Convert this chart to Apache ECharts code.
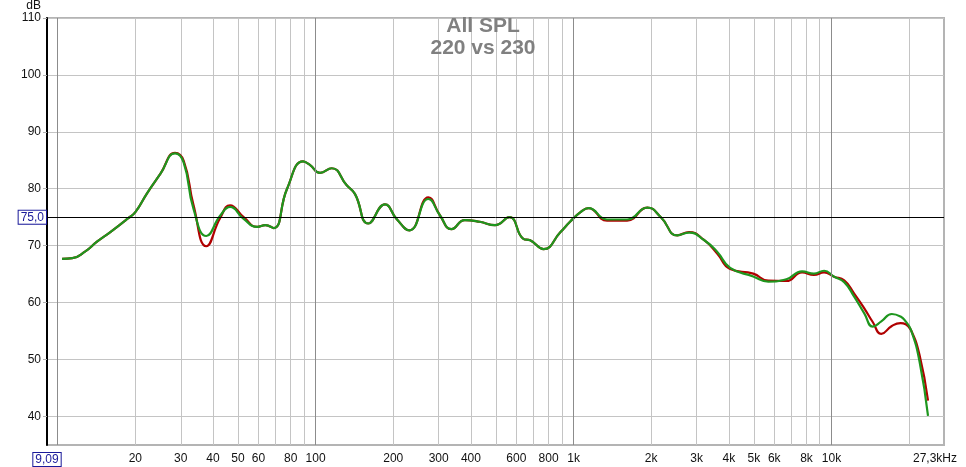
<!DOCTYPE html>
<html>
<head>
<meta charset="utf-8">
<script src="https://cdn.jsdelivr.net/npm/echarts@6/dist/echarts.min.js"></script>
<style>
html,body{margin:0;padding:0;background:#fff;}
#chart{width:966px;height:467px;}
</style>
</head>
<body>
<div id="chart"></div>
<script>
// Frequencies (Hz)
const freq = [10.4, 11.4, 12.8, 14.2, 16.0, 18.6, 20.0, 22.2, 25.0, 28.5, 30.8, 33.6, 37.7, 42.7, 46.6, 52.6, 59.4, 63.9, 68.8, 77.5,
  89.4, 95, 104, 115.5, 132, 142, 160, 185.7, 206, 231, 273.6, 303.6, 336, 379, 433, 496, 564, 639, 679, 765,
  890, 969, 1064, 1143, 1348, 1613, 1932, 2181, 2525, 2805, 3204, 3609, 4047, 4972, 5690, 6681, 7690, 8545, 9363, 10237,
  11200, 12245, 13400, 14450, 15600, 17135, 18525, 19390, 20325, 21935, 23670];
// SPL "220" (red)
const spl220 = [67.7, 67.8, 69.0, 70.7, 72.4, 74.7, 75.9, 79.2, 82.6, 86.3, 84.9, 77.2, 69.9, 74.9, 77.1, 75.0, 73.3, 73.6, 73.1, 80.0,
  84.8, 84.2, 82.8, 83.6, 80.6, 79.1, 73.9, 77.25, 74.7, 72.7, 78.5, 75.3, 72.9, 74.5, 74.2, 73.6, 75.0, 71.2, 70.96, 69.4,
  72.4, 74.2, 75.9, 76.6, 74.4, 74.4, 76.7, 75.0, 71.8, 72.4, 71.0, 68.6, 65.9, 65.1, 63.85, 63.8, 65.3, 64.85, 65.3, 64.55,
  63.9, 61.6, 59.0, 56.6, 54.5, 55.9, 56.4, 56.2, 55.2, 50.85, 42.8];
// SPL "230" (green)
const spl230 = [67.7, 67.8, 69.0, 70.7, 72.4, 74.7, 75.9, 79.2, 82.6, 86.2, 84.6, 76.5, 71.7, 75.3, 76.8, 74.7, 73.3, 73.6, 73.1, 80.0,
  84.8, 84.2, 82.8, 83.6, 80.6, 79.1, 73.9, 77.25, 74.7, 72.7, 78.2, 75.3, 72.9, 74.5, 74.2, 73.6, 75.0, 71.2, 70.96, 69.4,
  72.4, 74.2, 75.9, 76.6, 74.6, 74.6, 76.7, 75.0, 71.8, 72.3, 71.0, 68.9, 66.1, 64.6, 63.7, 64.1, 65.5, 65.1, 65.6, 64.55,
  63.6, 61.05, 58.1, 55.8, 56.7, 58.0, 57.55, 56.7, 55.2, 49.7, 40.1];

// Axis definitions
const xMinHz = 9.09, xMaxHz = 27300;
const gridFreqs = [10,20,30,40,50,60,70,80,90,100,200,300,400,500,600,700,800,900,1000,2000,3000,4000,5000,6000,7000,8000,9000,10000,20000];
const decadeFreqs = [10,100,1000,10000];
const labelFreqs = [9.09,20,30,40,50,60,80,100,200,300,400,600,800,1000,2000,3000,4000,5000,6000,8000,10000,27300];
const labelTexts = ['9,09','20','30','40','50','60','80','100','200','300','400','600','800','1k','2k','3k','4k','5k','6k','8k','10k','27,3kHz'];
const yTicks = [40,50,60,70,80,90,100,110];
const refLevel = 75;

const L = Math.log10;
const FONT = '"Liberation Sans", Arial, sans-serif';

const chart = echarts.init(document.getElementById('chart'), null, {renderer:'canvas'});
chart.setOption({
  animation:false,
  backgroundColor:'#ffffff',
  title:{
    text:'All SPL\n220 vs 230',
    left:'center', top:15, padding:0,
    textStyle:{color:'#808080', fontSize:21, fontWeight:'bold', fontFamily:FONT, lineHeight:22}
  },
  grid:{left:47, right:22, top:15, bottom:22, show:true, borderColor:'#b4b4b4', borderWidth:2, backgroundColor:'transparent'},
  xAxis:{
    type:'value', min:L(xMinHz), max:L(xMaxHz),
    axisLine:{show:false},
    axisTick:{show:false, customValues:gridFreqs.map(L)},
    splitLine:{show:true, lineStyle:{color:'#c4c4c4', width:1}},
    axisLabel:{
      customValues:labelFreqs.map(L),
      color:'#111', fontSize:12, fontFamily:FONT, margin:8,
      formatter:function(v){
        let best=0, bd=1e9;
        labelFreqs.forEach((f,i)=>{const d=Math.abs(L(f)-v); if(d<bd){bd=d;best=i;}});
        const t = labelTexts[best];
        if(best===0) return '{b|'+t+'}';
        if(best===labelTexts.length-1) return '{e|'+t+'}';
        return t;
      },
      rich:{
        b:{color:'#1a1a9a', borderColor:'#1a1a9a', borderWidth:1, padding:[1,2,0,2], fontSize:12, fontFamily:FONT, backgroundColor:'#fff'},
        e:{color:'#111', fontSize:12, fontFamily:FONT, padding:[0,0,0,-18]}
      }
    }
  },
  yAxis:{
    type:'value', min:35, max:110,
    name:'dB', nameLocation:'end', nameGap:3,
    nameTextStyle:{color:'#111', fontSize:12, fontFamily:FONT, align:'right', verticalAlign:'bottom', padding:[0,6,0,0]},
    axisLine:{show:true, onZero:false, lineStyle:{color:'#000', width:2}},
    axisTick:{show:true, length:4, customValues:yTicks, lineStyle:{color:'#b0b0b0'}},
    splitLine:{show:true, lineStyle:{color:'#c4c4c4', width:1}},
    axisLabel:{customValues:yTicks, color:'#111', fontSize:12, fontFamily:FONT, margin:6}
  },
  series:[
    {
      type:'line', data:[], z:1, silent:true,
      markLine:{
        silent:true, symbol:'none', animation:false,
        data:[
          ...decadeFreqs.map(f=>({xAxis:L(f), lineStyle:{color:'#8c8c8c', width:1, type:'solid'}, label:{show:false}})),
          {yAxis:refLevel, lineStyle:{color:'#000', width:1, type:'solid'},
           label:{show:true, position:'start', distance:1, formatter:'75,0', color:'#1a1a9a', fontSize:12, fontFamily:FONT,
                  borderColor:'#1a1a9a', borderWidth:1, padding:[1,2,0,2], backgroundColor:'#fff'}}
        ]
      }
    },
    {
      name:'220', type:'line', z:3, smooth:0.5, showSymbol:false, symbol:'none',
      lineStyle:{color:'#b00000', width:2.2},
      data:freq.map((f,i)=>[L(f), spl220[i]])
    },
    {
      name:'230', type:'line', z:4, smooth:0.5, showSymbol:false, symbol:'none',
      lineStyle:{color:'#1e961e', width:2.2},
      data:freq.map((f,i)=>[L(f), spl230[i]])
    }
  ]
});
</script>
</body>
</html>
